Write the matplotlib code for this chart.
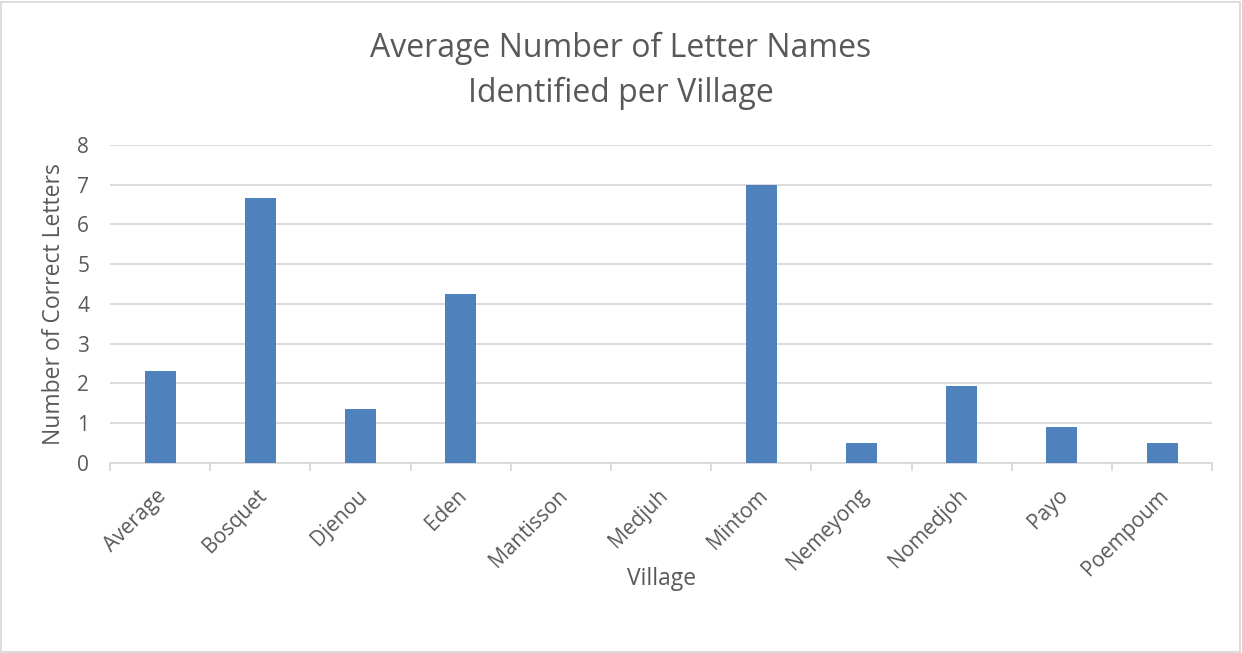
import matplotlib.pyplot as plt
import matplotlib.transforms as mtransforms
from matplotlib.patches import Rectangle
import numpy as np

villages = ["Average", "Bosquet", "Djenou", "Eden", "Mantisson", "Medjuh",
            "Mintom", "Nemeyong", "Nomedjoh", "Payo", "Poempoum"]
letters = [2.31, 6.67, 1.35, 4.25, 0, 0, 7.0, 0.5, 1.93, 0.9, 0.5]

plt.rcParams['font.family'] = ['Open Sans', 'DejaVu Sans']
txt = '#595959'
grid = '#d9d9d9'

fig = plt.figure(figsize=(12.42, 6.53), dpi=100)
ax = fig.add_axes([0.0886, 0.291, 0.8874, 0.487])

x = np.arange(len(villages))
ax.bar(x, letters, width=0.31, color='#4f81bd', zorder=3)

ax.set_xlim(-0.5, len(villages) - 0.5)
ax.set_ylim(0, 8)
ax.set_yticks(range(0, 9))
ax.yaxis.grid(True, color=grid, linewidth=1.3, zorder=0)
ax.tick_params(axis='y', length=0, labelsize=15, colors=txt, pad=15)

ax.set_xticks(x)
ax.set_xticklabels(villages, rotation=45, ha='right', rotation_mode='anchor',
                   fontsize=15, color=txt)
ax.set_xticks(np.arange(-0.5, len(villages)), minor=True)
ax.tick_params(axis='x', which='major', length=0, pad=16)
ax.tick_params(axis='x', which='minor', length=6, color=grid, width=1.3)
# nudge the rotated labels a little to the left, like the original
shift = mtransforms.ScaledTranslation(-4 / 100, 0, fig.dpi_scale_trans)
for lbl in ax.get_xticklabels():
    lbl.set_transform(lbl.get_transform() + shift)

for s in ['top', 'right', 'left']:
    ax.spines[s].set_visible(False)
ax.spines['bottom'].set_color(grid)
ax.spines['bottom'].set_linewidth(1.3)

ax.set_ylabel("Number of Correct Letters", fontsize=16.5, color=txt, labelpad=8)
ax.set_xlabel("Village", fontsize=16.5, color=txt, labelpad=-9)
fig.text(0.5, 0.952, "Average Number of Letter Names\nIdentified per Village",
         fontsize=23, color=txt, ha='center', va='top', linespacing=1.5)

fig.patches.append(Rectangle((0.001, 0.002), 0.997, 0.995, transform=fig.transFigure,
                             fill=False, edgecolor=grid, linewidth=1.3))

fig.savefig('out.png', dpi=100)
